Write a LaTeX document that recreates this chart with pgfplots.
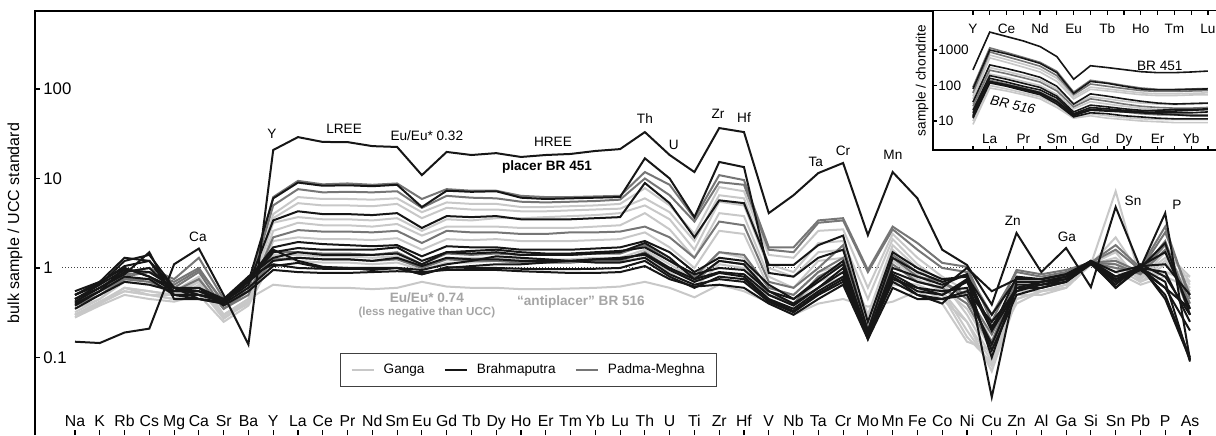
\documentclass[border=0pt]{standalone}
\usepackage{pgfplots}
\pgfplotsset{compat=1.18}
\usepackage{pgfplotstable}
\usepackage{fontspec}
\setmainfont{Liberation Sans}
\usetikzlibrary{calc}

\definecolor{ganga}{RGB}{200,200,200}
\definecolor{padma}{RGB}{118,118,118}
\definecolor{brahma}{RGB}{22,22,22}
\definecolor{annot}{RGB}{165,165,165}

\newcommand{\fa}{\fontsize{8}{9.6}\selectfont}
\newcommand{\ft}{\fontsize{8.4}{10}\selectfont}
\newcommand{\fx}{\fontsize{7.9}{9.5}\selectfont}
\newcommand{\fb}{\fontsize{6.8}{8}\selectfont}
\newcommand{\fc}{\fontsize{5.8}{7}\selectfont}

% ---------- main diagram: bulk sample / UCC ----------
\pgfplotstableread{
i  g1   g2   g3   g4   g5   g6    g7   g8
0  0.35 0.30 0.32 0.28 0.30 0.30  0.30 0.28
1  0.45 0.40 0.45 0.40 0.42 0.42  0.40 0.38
2  0.70 0.60 0.75 0.55 0.60 0.55  0.60 0.50
3  0.65 0.55 0.70 0.50 0.55 0.50  0.50 0.45
4  0.55 0.50 0.50 0.45 0.50 0.45  0.50 0.42
5  0.80 0.70 0.75 0.65 0.60 0.55  0.70 0.50
6  0.30 0.28 0.30 0.28 0.27 0.30  0.30 0.25
7  0.45 0.42 0.45 0.40 0.42 0.42  0.45 0.38
8  4.0  3.6  3.2  2.6  2.0  1.4   0.65 1.3
9  6.2  5.3  3.7  3.2  2.2  1.4   0.61 1.2
10 5.9  5.0  3.5  3.0  2.1  1.35  0.60 1.15
11 5.9  5.0  3.5  3.0  2.1  1.35  0.60 1.15
12 5.8  4.9  3.4  2.9  2.05 1.3   0.58 1.1
13 6.0  5.2  3.6  3.1  2.15 1.35  0.60 1.15
14 4.2  3.6  2.6  2.3  1.6  1.05  0.70 0.95
15 5.4  4.7  3.5  2.9  2.1  1.3   0.62 1.15
16 5.2  4.5  3.4  2.9  2.05 1.3   0.60 1.15
17 5.2  4.5  3.6  2.9  2.1  1.3   0.60 1.2
18 4.8  4.3  3.6  2.8  2.0  1.25  0.58 1.15
19 4.8  4.3  3.7  2.8  2.0  1.25  0.58 1.15
20 4.9  4.4  3.8  2.8  2.0  1.25  0.59 1.15
21 5.0  4.5  3.9  2.9  2.05 1.3   0.60 1.2
22 5.2  4.6  4.1  3.0  2.1  1.3   0.62 1.2
23 7.8  6.0  5.0  4.1  2.5  1.6   0.70 1.3
24 5.0  4.2  3.5  2.7  1.7  1.1   0.60 0.9
25 2.4  2.0  1.6  1.3  1.0  0.75  0.47 0.6
26 8.0  6.5  5.5  4.1  2.6  1.5   0.65 1.1
27 7.2  6.0  5.0  3.8  2.4  1.3   0.55 1.0
28 1.4  1.1  1.0  0.8  0.6  0.5   0.41 0.45
29 1.3  0.9  0.8  0.6  0.5  0.4   0.30 0.35
30 2.6  1.9  1.5  1.2  0.9  0.7   0.40 0.6
31 2.7  2.0  1.6  1.3  1.1  0.9   0.45 0.8
32 0.6  0.45 0.3  0.25 0.22 0.25  0.37 0.3
33 2.4  2.1  1.8  1.6  1.2  0.7   0.42 0.65
34 1.3  1.1  1.0  0.85 0.75 0.65  0.55 0.6
35 0.8  0.7  0.6  0.55 0.55 0.5   0.40 0.45
36 0.55 0.3  0.35 0.25 0.2  0.17  0.15 0.25
37 0.15 0.1  0.12 0.09 0.08 0.087 0.12 0.07
38 0.65 0.55 0.6  0.55 0.5  0.45  0.40 0.45
39 0.65 0.6  0.6  0.55 0.5  0.55  0.55 0.55
40 0.75 0.7  0.7  0.65 0.6  0.6   0.65 0.6
41 1.1  1.1  1.1  1.1  1.1  1.1   1.1  1.1
42 7.2  1.3  2.2  1.5  1.1  1.0   1.2  0.9
43 0.75 0.8  0.85 0.7  0.75 0.7   0.8  0.65
44 1.5  1.3  1.6  1.1  1.2  0.9   0.9  0.8
45 0.8  0.65 0.7  0.6  0.55 0.7   0.8  0.6
}\gmain

\pgfplotstableread{
i  p1   p2   p3   p4   p5
0  0.45 0.42 0.38 0.4  0.42
1  0.6  0.55 0.5  0.55 0.55
2  0.9  0.85 0.75 0.8  0.75
3  1.0  0.9  0.75 0.9  0.7
4  0.75 0.65 0.6  0.7  0.55
5  1.3  0.95 0.9  1.0  0.75
6  0.45 0.42 0.35 0.4  0.35
7  0.6  0.55 0.5  0.55 0.55
8  6.2  5.0  2.2  1.5  1.25
9  9.4  7.6  2.65 1.5  1.3
10 8.6  7.0  2.55 1.45 1.25
11 8.8  7.1  2.55 1.45 1.25
12 8.5  7.0  2.5  1.4  1.2
13 8.8  7.2  2.6  1.5  1.25
14 5.9  4.7  1.9  1.1  1.0
15 7.6  6.4  2.6  1.45 1.25
16 7.3  6.1  2.5  1.4  1.2
17 7.3  6.0  2.5  1.45 1.2
18 6.4  5.5  2.4  1.4  1.15
19 6.2  5.4  2.4  1.4  1.15
20 6.2  5.5  2.5  1.4  1.15
21 6.3  5.6  2.5  1.45 1.2
22 6.4  5.8  2.55 1.45 1.2
23 11.8 10   2.9  1.8  1.5
24 8.5  6.5  2.2  1.2  1.0
25 3.6  3.3  1.3  0.8  0.7
26 10.9 9.1  3.3  1.5  1.2
27 9.6  8.5  3.0  1.4  1.1
28 1.7  1.6  0.7  0.6  0.5
29 1.7  1.5  0.6  0.5  0.4
30 3.4  3.2  1.0  0.9  0.8
31 3.6  3.4  1.8  1.3  1.1
32 0.95 0.9  0.2  0.2  0.18
33 2.9  2.7  1.4  1.3  1.1
34 1.9  1.6  0.9  0.8  0.7
35 1.14 1.0  0.7  0.7  0.6
36 1.03 0.9  0.5  0.45 0.4
37 0.25 0.3  0.18 0.15 0.13
38 0.95 0.9  0.7  0.7  0.6
39 0.85 0.8  0.7  0.7  0.65
40 0.95 0.9  0.8  0.8  0.75
41 1.15 1.15 1.15 1.15 1.15
42 1.8  1.6  1.2  1.0  1.1
43 1.0  0.95 0.9  0.9  0.85
44 2.9  2.5  1.8  2.0  1.6
45 0.45 0.5  0.4  0.35 0.3
}\pmain

\pgfplotstableread{
i  b1    b2   b3   b4    b5   b6   b7   b8   b9   b10  b11
0  0.15  0.5  0.4  0.45  0.5  0.55 0.42 0.38 0.45 0.35 0.5
1  0.145 0.65 0.55 0.6   0.7  0.7  0.6  0.55 0.65 0.5  0.68
2  0.19  1.2  1.0  0.85  1.3  1.0  0.9  0.8  0.95 0.7  1.05
3  0.21  1.4  0.8  1.5   1.2  0.8  1.0  0.75 0.9  0.65 1.2
4  1.1   0.6  0.55 0.45  0.5  0.6  0.55 0.5  0.6  0.55 0.6
5  1.65  0.5  0.55 0.45  0.5  0.6  0.55 0.45 0.5  0.6  0.45
6  0.5   0.45 0.42 0.42  0.42 0.45 0.45 0.4  0.42 0.38 0.4
7  0.14  0.7  0.65 0.75  0.7  0.8  0.7  0.6  0.75 0.55 0.8
8  20.8  6.0  3.4  1.7   1.5  1.3  1.2  1.05 1.6  0.95 1.1
9  29    9.0  4.3  1.95  1.67 1.5  1.3  1.14 1.2  0.9  1.0
10 25.6  8.3  4.0  1.85  1.6  1.4  1.25 1.0  1.03 0.88 0.98
11 25.5  8.4  4.0  1.8   1.6  1.4  1.25 1.0  1.0  0.88 0.98
12 23    8.2  3.9  1.75  1.6  1.4  1.2  0.95 1.0  0.9  0.97
13 22.5  8.5  4.1  1.8   1.7  1.45 1.3  1.0  1.0  0.92 1.0
14 10.9  4.8  2.8  1.35  1.2  1.1  1.05 0.85 0.95 0.9  0.85
15 19.8  7.3  3.8  1.75  1.5  1.5  1.3  1.0  1.1  0.95 1.02
16 18.3  7.1  3.7  1.7   1.45 1.55 1.25 1.05 1.2  0.95 1.0
17 19.2  7.2  3.8  1.7   1.5  1.6  1.25 1.1  1.35 0.95 1.0
18 17.4  6.1  3.5  1.6   1.4  1.5  1.2  1.1  1.3  0.92 0.98
19 18.3  5.9  3.5  1.6   1.4  1.45 1.2  1.15 1.25 0.9  0.97
20 18.8  6.0  3.5  1.6   1.4  1.45 1.2  1.2  1.2  0.88 0.97
21 20.3  6.1  3.6  1.65  1.45 1.5  1.25 1.25 1.15 0.88 0.98
22 21.3  6.2  3.7  1.7   1.5  1.55 1.25 1.3  1.15 0.9  1.0
23 33    16.8 8.9  2.0   1.9  1.7  1.45 1.4  1.3  1.05 1.2
24 18.3  10   5.3  1.5   1.3  1.2  1.0  0.95 0.85 0.75 0.8
25 11.8  3.7  2.2  0.9   0.75 0.85 0.75 0.7  0.65 0.62 0.6
26 36.6  15.3 5.7  1.3   1.2  1.0  0.9  0.88 0.75 0.65 0.8
27 33    13.4 5.3  1.2   1.1  0.95 0.85 0.8  0.7  0.6  0.75
28 4.1   0.88 1.08 0.65  0.55 0.55 0.5  0.45 0.42 0.4  0.44
29 6.5   0.8  1.08 0.45  0.4  0.45 0.38 0.35 0.32 0.3  0.33
30 11.5  1.3  1.8  0.7   0.6  0.75 0.6  0.55 0.5  0.45 0.52
31 14.9  1.6  2.3  1.1   1.0  1.2  0.9  0.8  0.7  0.65 0.75
32 2.33  0.2  0.25 0.18  0.17 0.17 0.16 0.18 0.17 0.16 0.17
33 11.8  1.3  1.5  1.0   0.9  0.85 0.8  0.75 0.8  0.6  0.7
34 6.0   0.9  1.0  0.8   0.7  0.6  0.55 0.6  0.5  0.45 0.5
35 1.6   0.7  0.75 0.65  0.6  0.5  0.5  0.55 0.45 0.45 0.4
36 1.08  0.85 0.8  0.85  1.0  0.7  0.75 0.6  0.5  0.55 0.75
37 0.39  0.2  0.3  0.036 0.55 0.2  0.1  0.12 0.14 0.25 0.22
38 2.46  0.8  0.75 0.7   0.75 0.55 0.65 0.5  0.6  0.55 0.6
39 0.9   0.75 0.75 0.7   0.75 0.7  0.65 0.6  0.6  0.65 0.7
40 1.67  0.85 0.85 0.8   0.85 0.75 0.75 0.7  0.7  0.7  0.8
41 0.61  1.15 1.15 1.2   1.2  1.2  1.15 1.1  1.15 1.15 1.15
42 4.8   0.8  0.7  0.6   0.9  0.8  0.75 0.65 0.7  0.7  0.6
43 1.0   1.0  1.05 1.0   1.05 1.0  1.0  1.1  0.95 1.0  1.05
44 4.1   1.9  1.5  0.7   1.1  0.9  0.5  0.8  0.6  0.6  0.45
45 0.094 0.3  0.35 0.09  0.5  0.25 0.1  0.3  0.2  0.35 0.095
}\bmain

% ---------- inset: sample / chondrite (Y, La ... Lu) ----------
\pgfplotstableread{
i  g1  g2  g3  g5  g6   g7
0  50  42  30  22  10   8
1  720 600 320 210 100  85
2  540 450 250 170 80   70
3  400 330 190 130 62   55
4  290 240 145 100 48   42
5  160 130 80  56  28   24
6  48  42  28  22  13   12
7  90  78  48  35  16   14
8  80  70  42  30  14   12
9  70  62  36  26  12.5 11
10 62  55  32  23  11.5 10
11 58  52  30  21  11   9.5
12 58  52  29  20  11   9
13 60  54  30  20  11   9
14 62  55  31  21  11   9
}\ginset

\pgfplotstableread{
i  p1   p2  p3  p4
0  90   62  26  15
1  1150 880 270 140
2  850  650 215 110
3  620  480 165 85
4  450  350 125 65
5  250  190 70  38
6  65   55  25  15
7  140  110 42  22
8  120  95  36  20
9  100  82  30  18
10 85   72  26  16
11 78   68  24  15
12 78   68  23  15
13 80   70  23  15
14 82   72  24  15
}\pinset

\pgfplotstableread{
i  b1   b2   b3  b4  b5  b9  b10  b11
0  275  80   34  20  17  14  12   13
1  3200 1000 380 190 160 125 118  130
2  2400 780  300 150 125 100 95   105
3  1800 580  230 115 95  78  72   82
4  1250 420  170 88  75  60  55   63
5  650  230  95  50  44  34  30   36
6  150  60   30  18  16  14  13   15
7  360  130  58  28  24  20  17   21
8  320  115  50  25  22  19  16   20
9  280  95   42  22  20  18  14   19
10 245  80   36  20  18  17  13   19
11 230  75   32  19  17  16  12   20
12 230  75   30  19  17  15  11.5 21
13 240  78   31  20  17  14  11.5 21
14 255  80   32  21  18  14  11.5 22
}\binset

\begin{document}
\begin{tikzpicture}
\begin{axis}[name=main, scale only axis, width=590.5pt, height=212pt,
  xmin=-1.614, xmax=46.05, ymode=log, ymin=0.0136, ymax=744,
  clip=false, axis line style={draw=none},
  tick align=inside, major tick length=2.4pt, tick style={black, line width=0.6pt},
  xtick={0,...,45},
  xticklabels={Na,K,Rb,Cs,Mg,Ca,Sr,Ba,Y,La,Ce,Pr,Nd,Sm,Eu,Gd,Tb,Dy,Ho,Er,Tm,Yb,Lu,Th,U,Ti,Zr,Hf,V,Nb,Ta,Cr,Mo,Mn,Fe,Co,Ni,Cu,Zn,Al,Ga,Si,Sn,Pb,P,As},
  xtick pos=lower, ytick pos=left,
  xticklabel style={anchor=base, yshift=4.3pt, font=\fx, inner sep=0pt},
  ytick={0.1,1,10,100}, yticklabels={0.1,1,10,100}, yminorticks=false,
  yticklabel style={anchor=west, xshift=4pt, font=\ft, inner sep=0pt},
  legend columns=3,
  legend style={at={(0.4179,0.1533)}, anchor=center, draw=black!75, line width=0.5pt,
    font=\fb, inner xsep=5pt, inner ysep=4pt, nodes={inner sep=1pt},
    /tikz/every odd column/.append style={column sep=3.5pt},
    /tikz/every even column/.append style={column sep=8.5pt}},
  legend image code/.code={\draw[#1] (0pt,0pt) -- (11pt,0pt);},
  legend cell align=left,
]
\draw[densely dotted, black!75, line width=0.5pt] (axis cs:-0.52,1) -- (axis cs:46.05,1);
\pgfplotsinvokeforeach{g1,g2,g3,g4,g5,g6,g8,g7}{
  \addplot[ganga, line width=1pt, forget plot] table[x=i, y=#1] {\gmain};
}
\pgfplotsinvokeforeach{p1,p2,p3,p4,p5}{
  \addplot[padma, line width=1pt, forget plot] table[x=i, y=#1] {\pmain};
}
\pgfplotsinvokeforeach{b2,b3,b4,b5,b6,b7,b8,b9,b10,b11,b1}{
  \addplot[brahma, line width=1pt, forget plot] table[x=i, y=#1] {\bmain};
}
\addlegendimage{ganga, line width=1.2pt}\addlegendentry{Ganga}
\addlegendimage{brahma, line width=1.2pt}\addlegendentry{Brahmaputra}
\addlegendimage{padma, line width=1.2pt}\addlegendentry{Padma-Meghna}

\draw[black, line width=0.8pt] (rel axis cs:0,0) -- (rel axis cs:0,1) -- (rel axis cs:1,1);

\node[font=\fb] at (axis cs:4.96,2.22) {Ca};
\node[font=\fb] at (axis cs:7.95,31.4) {Y};
\node[font=\fb] at (axis cs:10.86,35.7) {LREE};
\node[font=\fb] at (axis cs:14.2,29.8) {Eu/Eu* 0.32};
\node[font=\fb] at (axis cs:19.29,25.6) {HREE};
\node[font=\fb\bfseries] at (axis cs:19.05,13.4) {placer BR 451};
\node[font=\fb] at (axis cs:23.0,46.2) {Th};
\node[font=\fb] at (axis cs:24.17,23.7) {U};
\node[font=\fb] at (axis cs:25.95,52.6) {Zr};
\node[font=\fb] at (axis cs:27.0,47.4) {Hf};
\node[font=\fb] at (axis cs:29.9,15.3) {Ta};
\node[font=\fb] at (axis cs:31.0,20.3) {Cr};
\node[font=\fb] at (axis cs:33.01,18.3) {Mn};
\node[font=\fb] at (axis cs:37.85,3.35) {Zn};
\node[font=\fb] at (axis cs:40.03,2.22) {Ga};
\node[font=\fb] at (axis cs:42.7,5.6) {Sn};
\node[font=\fb] at (axis cs:44.47,5.06) {P};
\node[font=\fb\bfseries, text=annot] at (axis cs:14.2,0.462) {Eu/Eu* 0.74};
\node[font=\fc\bfseries, text=annot] at (axis cs:14.2,0.314) {(less negative than UCC)};
\node[font=\fb\bfseries, text=annot] at (axis cs:20.42,0.417) {“antiplacer” BR 516};
\end{axis}

\begin{axis}[name=inset, at={(main.north east)}, anchor=north east, scale only axis,
  width=141.5pt, height=69.5pt, xmin=-2.38, xmax=14.48, ymode=log, ymin=1.52, ymax=12560,
  axis background/.style={fill=white}, axis line style={draw=none}, clip=false,
  tick align=inside, major tick length=2pt, tick style={black, line width=0.6pt},
  xtick={0,...,14}, xticklabels={,La,,Pr,,Sm,,Gd,,Dy,,Er,,Yb,},
  xtick pos=both, xticklabel pos=lower,
  xticklabel style={anchor=base, yshift=3.2pt, font=\fb, inner sep=0pt},
  extra x ticks={0,2,...,14}, extra x tick labels={Y,Ce,Nd,Eu,Tb,Ho,Tm,Lu},
  extra x tick style={xticklabel pos=upper, xticklabel style={yshift=-14.2pt}},
  ytick={10,100,1000}, yticklabels={10,100,1000}, yminorticks=false, ytick pos=left,
  yticklabel style={anchor=west, xshift=2.5pt, font=\fb, inner sep=0pt},
]
\pgfplotsinvokeforeach{g1,g2,g3,g5,g6,g7}{
  \addplot[ganga, line width=0.8pt, forget plot] table[x=i, y=#1] {\ginset};
}
\pgfplotsinvokeforeach{p1,p2,p3,p4}{
  \addplot[padma, line width=0.8pt, forget plot] table[x=i, y=#1] {\pinset};
}
\pgfplotsinvokeforeach{b2,b3,b4,b5,b9,b10,b11,b1}{
  \addplot[brahma, line width=0.8pt, forget plot] table[x=i, y=#1] {\binset};
}
\draw[black, line width=0.8pt] (rel axis cs:0,1) -- (rel axis cs:0,0) -- (rel axis cs:1,0);
\node[font=\fb] at (axis cs:11.13,354) {BR 451};
\node[font=\fb\itshape, rotate=-12] at (axis cs:2.38,28.2) {BR 516};
\end{axis}

\node[rotate=90, font=\fa] at ($(main.west)+(-10pt,0)$) {bulk sample / UCC standard};
\node[rotate=90, font=\fb] at ($(inset.west)+(-5.5pt,0)$) {sample / chondrite};

\pgfresetboundingbox
\useasboundingbox ($(main.south west)+(-17.5pt,0)$) rectangle ($(main.north east)+(0,5.5pt)$);
\end{tikzpicture}
\end{document}
